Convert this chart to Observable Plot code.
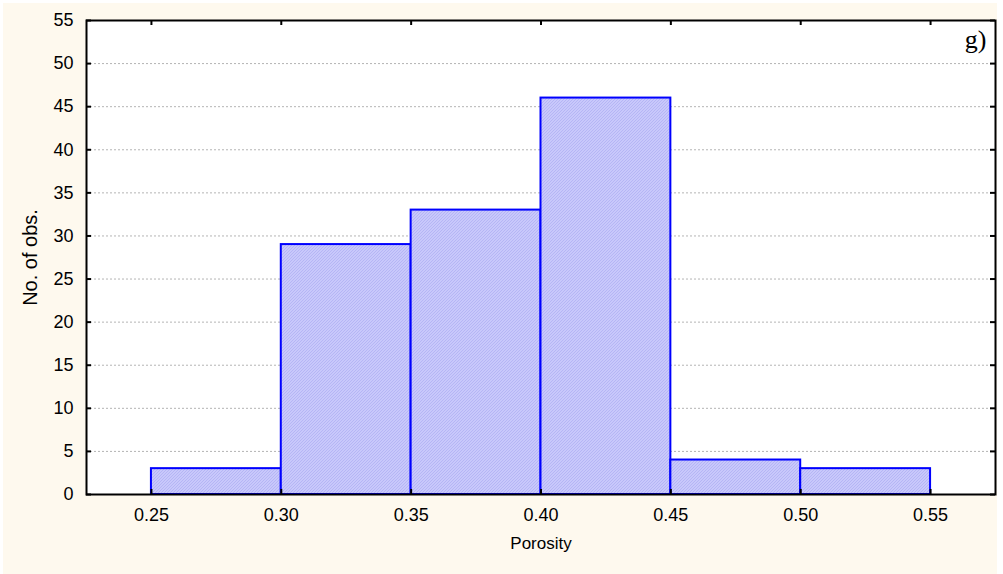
<!DOCTYPE html>
<html><head><meta charset="utf-8">
<script src="https://cdn.jsdelivr.net/npm/d3@7"></script>
<script src="https://cdn.jsdelivr.net/npm/@observablehq/plot@0.6"></script>
<style>
body{margin:0;background:#fff;}
#wrap{position:relative;width:1003px;height:574px;overflow:hidden;}
#bg{position:absolute;left:3px;top:3px;width:994px;height:571px;background:#fef9ee;}
#chart{position:absolute;left:0;top:0;}
</style></head><body>
<div id="wrap"><div id="bg"></div><div id="chart"></div></div>
<script>
const binStart = [0.25, 0.30, 0.35, 0.40, 0.45, 0.50];
const binEnd   = [0.30, 0.35, 0.40, 0.45, 0.50, 0.55];
const counts   = [3, 29, 33, 46, 4, 3];
const xTicks = [0.25, 0.30, 0.35, 0.40, 0.45, 0.50, 0.55];
const yTicks = [0, 5, 10, 15, 20, 25, 30, 35, 40, 45, 50, 55];
const gridTicks = [5, 10, 15, 20, 25, 30, 35, 40, 45, 50];
const xLabel = "Porosity";
const yLabel = "No. of obs.";
const panelTag = "g)";

const bars = binStart.map((s, i) => ({x1: s, x2: binEnd[i], y: counts[i]}));

const W = 1003, H = 574, mL = 86, mR = 8, mT = 20, mB = 80;
const pw = W - mL - mR, ph = H - mT - mB;
const tk = 5;

const svg = Plot.plot({
  width: W, height: H,
  marginLeft: mL, marginRight: mR, marginTop: mT, marginBottom: mB,
  style: {background: "transparent", fontSize: "18px", fontFamily: "'Liberation Sans', Arial, sans-serif", color: "#000"},
  x: {domain: [0.225, 0.575]},
  y: {domain: [0, 55]},
  marks: [
    Plot.frame({fill: "white", stroke: null}),
    Plot.ruleY(gridTicks, {y: d => d, stroke: "#b4b4b4", strokeWidth: 1, strokeDasharray: "2,2"}),
    Plot.rectY(bars, {x1: "x1", x2: "x2", y1: 0, y2: "y", fill: "url(#hatch)", stroke: "#0000ff", strokeWidth: 2}),
    Plot.tickY(yTicks, {y: d => d, insetRight: pw - tk, stroke: "black", strokeWidth: 2}),
    Plot.tickY(yTicks, {y: d => d, insetLeft: pw - tk, stroke: "black", strokeWidth: 2}),
    Plot.tickX(xTicks, {x: d => d, insetBottom: ph - tk, stroke: "black", strokeWidth: 2}),
    Plot.tickX(xTicks, {x: d => d, insetTop: ph - tk, stroke: "black", strokeWidth: 2}),
    Plot.axisY({ticks: yTicks, tickSize: 0, tickPadding: 13, label: null, fontSize: 18}),
    Plot.axisX({ticks: xTicks, tickSize: 0, tickPadding: 14, tickFormat: d3.format(".2f"), label: null, fontSize: 18}),
    Plot.text([xLabel], {frameAnchor: "bottom", dy: 54, text: d => d, fontSize: 17}),
    Plot.text([yLabel], {frameAnchor: "left", dx: -56, rotate: -90, textAnchor: "middle", text: d => d, fontSize: 20}),
    Plot.text([panelTag], {frameAnchor: "top-right", dx: -9, dy: 27, textAnchor: "end", lineAnchor: "bottom", text: d => d,
      fontFamily: "'Liberation Serif', 'Times New Roman', serif", fontSize: 26}),
    Plot.frame({stroke: "black", strokeWidth: 2})
  ]
});

const ns = "http://www.w3.org/2000/svg";
const defs = document.createElementNS(ns, "defs");
defs.innerHTML = `<pattern id="hatch" patternUnits="userSpaceOnUse" width="3" height="3">
  <rect width="3" height="3" fill="#c8c8fb"/>
  <path d="M0,3L3,0M-1,1L1,-1M2,4L4,2" stroke="#aeaef2" stroke-width="0.7"/>
</pattern>`;
svg.insertBefore(defs, svg.firstChild);
document.getElementById("chart").appendChild(svg);
</script>
</body></html>
